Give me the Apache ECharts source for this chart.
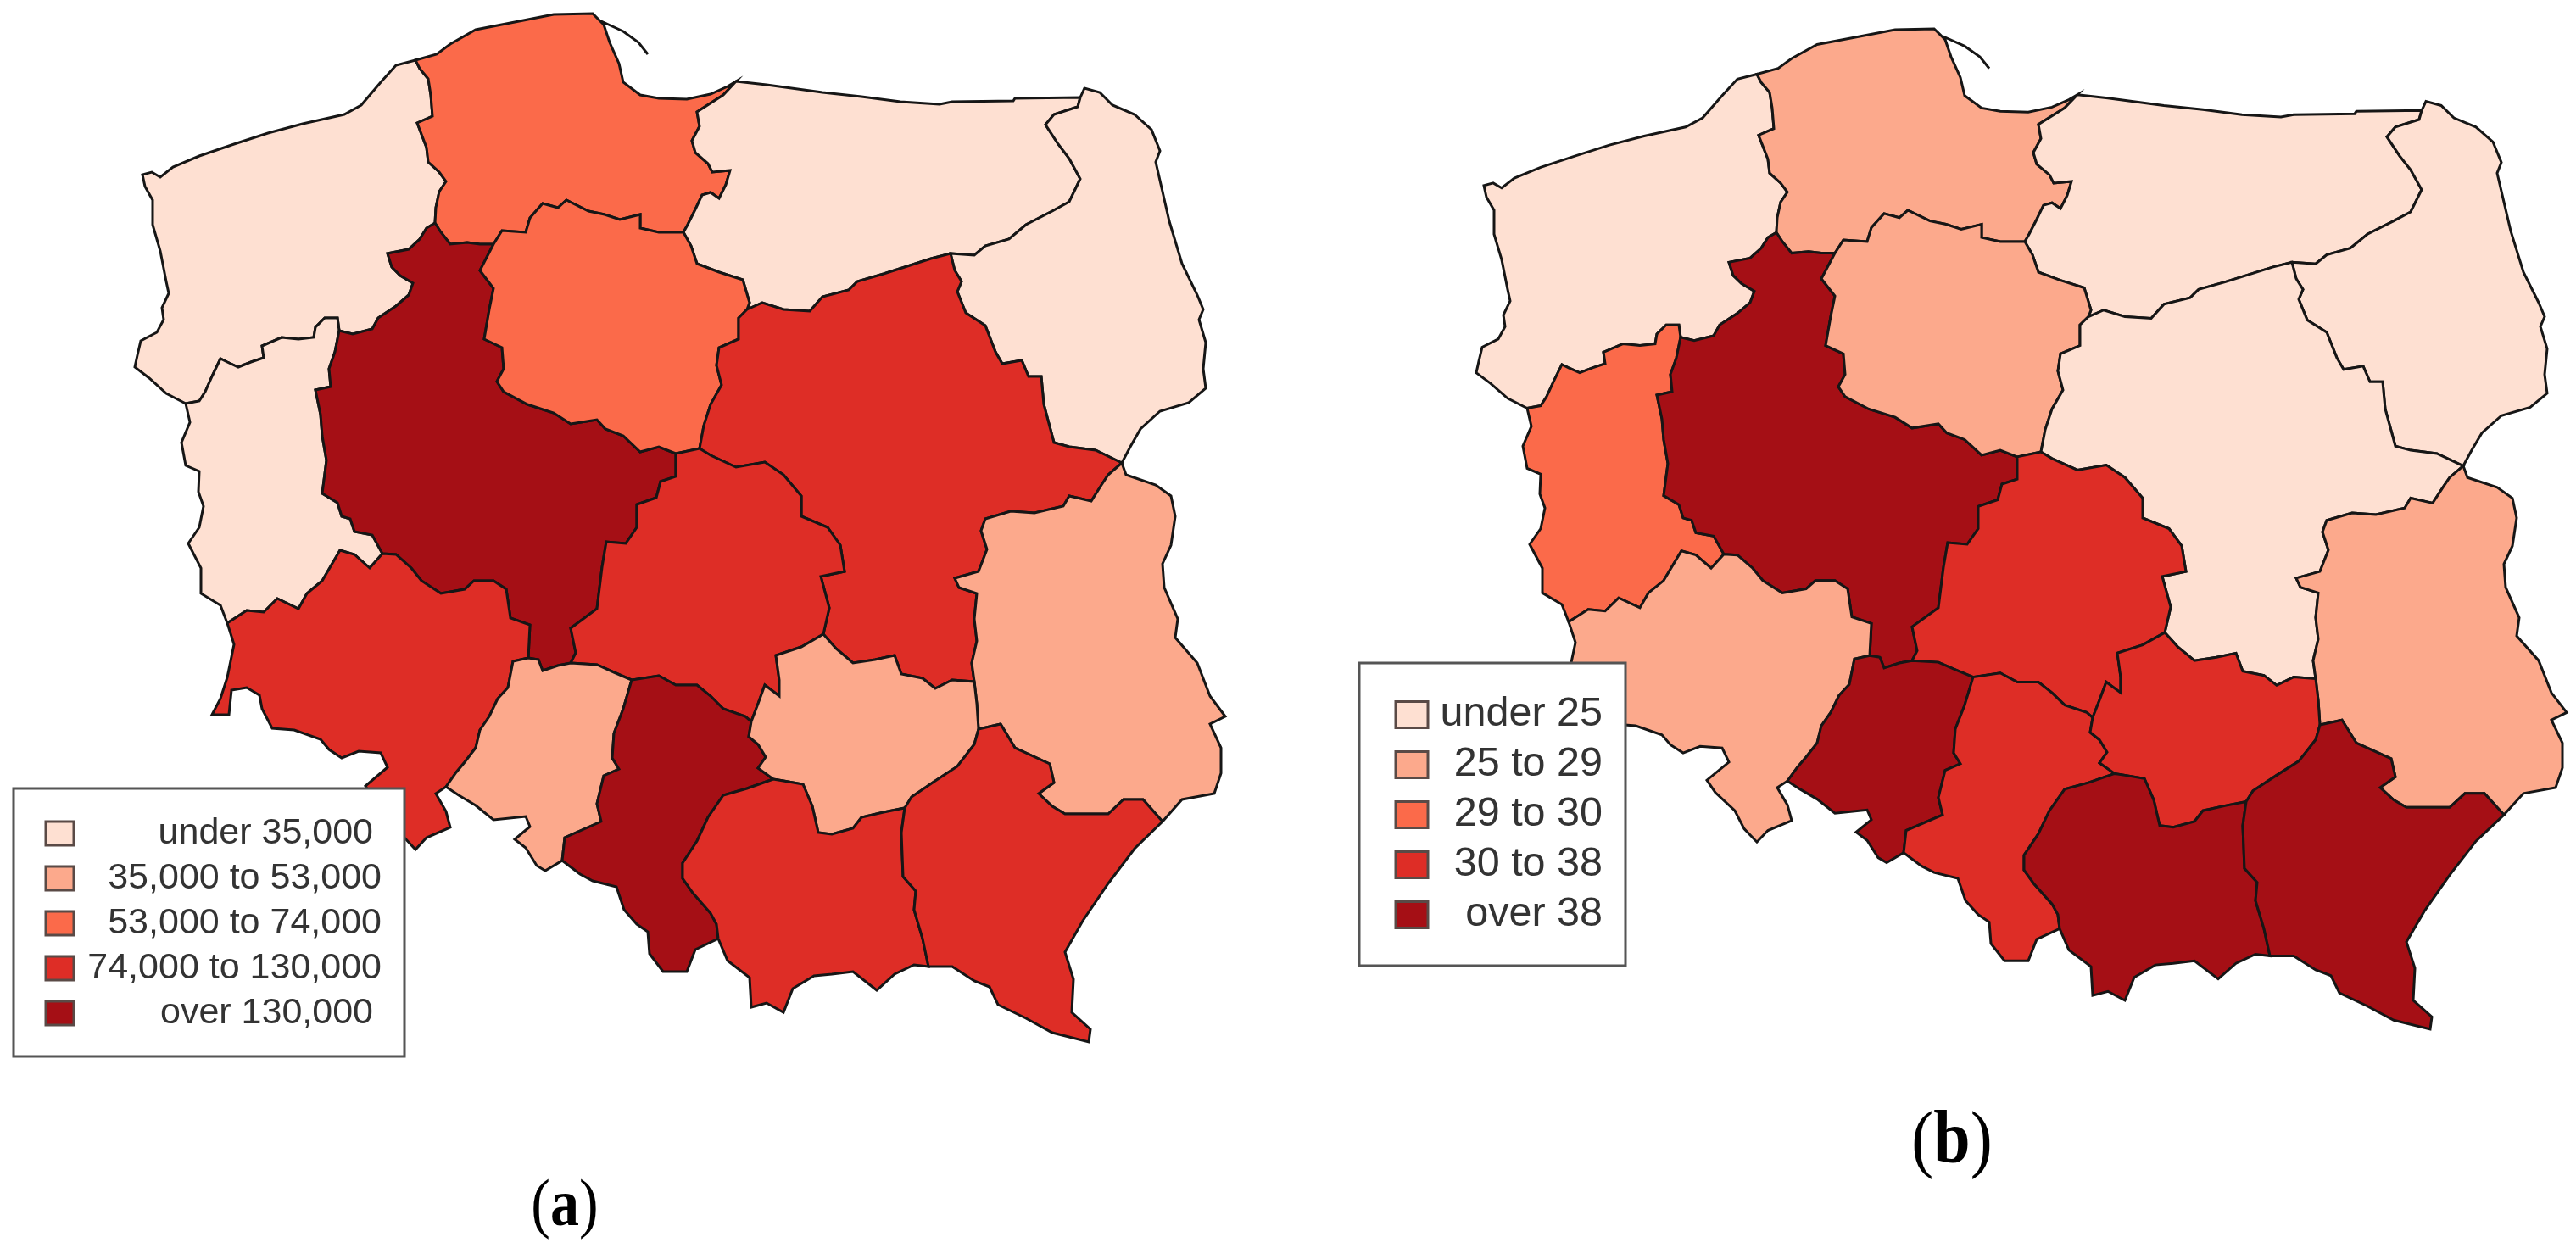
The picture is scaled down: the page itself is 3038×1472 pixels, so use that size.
<!DOCTYPE html>
<html>
<head>
<meta charset="utf-8">
<script src="https://cdn.jsdelivr.net/npm/echarts@6/dist/echarts.min.js"></script>
<style>
html, body { margin: 0; padding: 0; background: #fff; }
#chart { width: 3038px; height: 1472px; }
</style>
</head>
<body>
<div id="chart"></div>
<script>
// voivodeships and the class each one falls in (values estimated from the legend classes)
var regions = ['Zachodniopomorskie', 'Pomorskie', 'Warmińsko-Mazurskie', 'Podlaskie', 'Lubuskie', 'Wielkopolskie',
	'Kujawsko-Pomorskie', 'Mazowieckie', 'Łódzkie', 'Lubelskie', 'Dolnośląskie', 'Opolskie', 'Śląskie',
	'Świętokrzyskie', 'Małopolskie', 'Podkarpackie'];
var valuesA = [30000, 60000, 30000, 25000, 20000, 150000, 65000, 100000, 90000, 45000, 90000, 40000, 140000, 45000, 100000, 85000];
var valuesB = [22, 27, 22, 23, 29.5, 45, 27, 22, 32, 27, 28, 40, 34, 33, 42, 44];

var labelsA = ['under 35,000', '35,000 to 53,000', '53,000 to 74,000', '74,000 to 130,000', 'over 130,000'];
var labelsB = ['under 25', '25 to 29', '29 to 30', '30 to 38', 'over 38'];
var breaksA = [35000, 53000, 74000, 130000];
var breaksB = [25, 29, 30, 38];
var colors = ['#FEE0D2', '#FCA98C', '#FB6A4A', '#DE2D26', '#A50F15'];

// shared borders of the outline
var zachCoast = [[490,71],[467,77],[449,97],[426,124],[406,135],[357,146],[316,157],[276,170],[235,184],[204,197],[189,209],[179,203],[168,206],[171,220],[180,236],[180,265],[189,296],[196,332],[199,346],[191,363],[193,377],[185,392],[166,402],[162,419],[159,433],[176,446],[196,464],[219,476]];
var zachLub = [[219,476],[235,473],[242,462],[250,444],[260,423],[268,427],[281,433],[296,427],[311,422],[309,408],[332,398],[352,400],[370,398],[372,386],[383,375],[398,375],[400,390]];
var zachWlkp = [[400,390],[416,394],[439,388],[446,375],[467,361],[482,348],[487,334],[472,325],[462,315],[457,299],[482,294],[495,282],[503,269],[513,263]];
var zachPom = [[513,263],[514,245],[518,226],[526,214],[518,203],[505,191],[503,174],[492,145],[510,137],[508,112],[505,93],[495,81],[490,71]];
var pomCoast = [[490,71],[515,64],[531,52],[561,35],[602,27],[653,17],[699,16],[712,29],[719,50],[730,75],[735,97],[755,112],[777,116],[810,117],[838,111],[858,102],[868,96]];
var helSpit = [[709,25],[735,37],[753,50],[764,64]];
var pomWM = [[868,96],[853,112],[822,132],[825,149],[816,166],[820,180],[835,193],[840,203],[861,201],[856,218],[848,234],[838,227],[828,230],[820,247],[811,265],[806,274]];
var pomKuj = [[806,274],[777,274],[755,269],[755,253],[731,259],[713,253],[694,249],[668,236],[658,245],[640,240],[625,257],[620,274],[592,272],[582,288]];
var pomWlkp = [[582,288],[566,288],[551,286],[531,288],[520,274],[513,263]];
var kujWlkp = [[582,288],[566,319],[582,340],[577,365],[571,400],[592,410],[594,435],[586,450],[594,462],[622,477],[653,487],[673,500],[704,495],[714,506],[735,514],[755,533],[777,527],[797,535]];
var kujLodz = [[797,535],[825,529]];
var kujMaz = [[825,529],[830,502],[838,477],[851,454],[845,431],[848,410],[871,400],[871,375],[881,365]];
var kujWM = [[806,274],[815,290],[822,311],[848,321],[876,330],[884,357],[881,365]];
var wmMaz = [[881,365],[899,357],[924,365],[955,367],[970,350],[1001,342],[1011,332],[1042,323],[1067,315],[1098,305],[1121,299]];
var wmPodl = [[1121,299],[1149,301],[1162,290],[1190,282],[1210,265],[1241,249],[1261,238],[1274,211],[1261,187],[1248,170],[1233,147],[1243,135],[1271,126],[1274,115]];
var wmNorth = [[868,96],[904,100],[970,109],[1016,114],[1062,120],[1108,123],[1123,120],[1195,119],[1197,116],[1274,115]];
var podlOuter = [[1274,115],[1279,104],[1297,109],[1312,124],[1338,135],[1358,153],[1368,178],[1363,191],[1371,226],[1379,261],[1394,311],[1412,348],[1419,365],[1414,377],[1422,404],[1419,435],[1422,458],[1402,475],[1368,485],[1345,506],[1333,527],[1323,546]];
var podlMaz = [[1121,299],[1126,319],[1134,332],[1129,344],[1139,369],[1162,384],[1174,415],[1182,429],[1205,425],[1213,444],[1228,444],[1231,477],[1243,522],[1261,527],[1292,531],[1323,546]];
var lublOuter = [[1323,546],[1328,560],[1363,572],[1381,585],[1386,609],[1381,643],[1371,665],[1373,693],[1389,730],[1386,752],[1412,782],[1427,821],[1445,845],[1427,854],[1440,882],[1440,912],[1432,936],[1394,943],[1371,969]];
var lublMaz = [[1323,546],[1307,560],[1299,572],[1287,591],[1261,585],[1254,597],[1220,605],[1192,603],[1162,612],[1157,626],[1164,648],[1154,674],[1126,682],[1131,693],[1152,700],[1149,730],[1152,756],[1146,782],[1149,804]];
var lublSwie = [[1149,804],[1152,830],[1154,860]];
var lublPodk = [[1154,860],[1180,854],[1197,882],[1238,901],[1243,923],[1225,936],[1241,951],[1256,960],[1307,960],[1325,943],[1348,943],[1371,969]];
var swiePodk = [[1154,860],[1149,878],[1129,904],[1103,921],[1075,940],[1067,953]];
var swieMalo = [[1067,953],[1042,958],[1016,964],[1006,977],[981,984],[965,982],[958,951],[947,925],[924,921],[912,919]];
var swieSl = [[912,919],[894,906],[903,893],[894,878],[883,869],[886,851]];
var lodzSwie = [[971,748],[945,763],[915,773],[919,802],[919,821],[902,808],[894,830],[886,851]];
var mazSwie = [[971,748],[986,765],[1006,782],[1032,778],[1055,773],[1063,795],[1088,800],[1103,812],[1123,802],[1149,804]];
var lodzMaz = [[825,529],[838,537],[868,551],[902,545],[924,560],[945,585],[945,609],[976,622],[991,643],[996,674],[968,680],[978,717],[971,748]];
var wlkpLodz = [[797,535],[797,562],[779,568],[774,587],[751,595],[751,622],[738,641],[715,639],[710,669],[704,718],[673,741],[679,770],[673,782]];
var wlkpOpol = [[673,782],[658,785],[640,791],[635,778],[623,776]];
var wlkpDol = [[623,776],[625,737],[602,729],[597,695],[582,685],[559,685],[548,695],[520,700],[497,685],[485,670],[467,654],[451,653]];
var lubkWlkp = [[400,390],[395,415],[388,435],[390,456],[372,460],[378,489],[380,514],[385,543],[380,582],[398,593],[403,609],[413,612],[418,627],[439,631],[451,653]];
var lubkDol = [[451,653],[436,670],[418,654],[401,649],[380,685],[362,700],[352,718],[327,706],[311,722],[291,720],[268,735]];
var lubkOuter = [[219,476],[224,498],[214,522],[219,549],[235,556],[234,580],[240,597],[235,622],[222,641],[237,670],[237,700],[260,714],[268,735]];
var dolOuter = [[268,735],[276,760],[268,799],[260,824],[250,843],[270,843],[273,814],[291,811],[306,820],[309,836],[321,859],[347,861],[378,872],[388,884],[403,894],[423,886],[449,888],[457,905],[431,927],[441,942],[464,964],[475,986],[490,1002],[503,988],[531,976],[526,957],[514,936],[526,928]];
var dolOpol = [[526,928],[538,911],[548,899],[561,882],[566,861],[577,845],[587,824],[599,811],[605,780],[623,776]];
var opolOuter = [[526,928],[541,938],[561,950],[582,967],[620,963],[625,975],[607,990],[620,1000],[633,1021],[643,1027],[663,1015]];
var opolSl = [[745,802],[735,836],[724,865],[722,894],[730,907],[712,915],[704,948],[709,969],[666,988],[663,1015]];
var opolLodz = [[673,782],[704,784],[724,793],[745,802]];
var lodzSl = [[745,802],[777,797],[797,808],[822,808],[838,821],[853,836],[879,845],[886,851]];
var slOuter = [[663,1015],[684,1031],[699,1039],[727,1046],[736,1073],[751,1090],[764,1099],[766,1125],[782,1146],[810,1146],[820,1120],[847,1107]];
var slMalo = [[912,919],[881,930],[853,938],[835,964],[822,992],[805,1018],[805,1036],[817,1053],[838,1077],[845,1090],[847,1107]];
var maloOuter = [[847,1107],[858,1133],[884,1153],[886,1188],[904,1183],[924,1194],[935,1166],[960,1151],[981,1149],[1006,1146],[1034,1168],[1055,1149],[1078,1138],[1095,1140]];
var maloPodk = [[1067,953],[1063,982],[1065,1034],[1080,1051],[1078,1073],[1088,1107],[1095,1140]];
var podkOuter = [[1095,1140],[1123,1140],[1149,1157],[1167,1164],[1177,1185],[1210,1201],[1241,1218],[1284,1229],[1286,1214],[1264,1194],[1266,1155],[1256,1123],[1277,1086],[1307,1042],[1338,1001],[1371,969]];

// rev() walks a border backwards so the pieces join up into a ring
function rev(arc) {
	return arc.slice().reverse();
}
function ring() {
	var pts = [];
	for (var i = 0; i < arguments.length; i++) {
		pts = pts.concat(arguments[i]);
	}
	// latitude grows upward in a geojson, the traced y grows downward
	return pts.map(function(p) {
		return [p[0], -p[1]];
	});
}

var rings = {
	'Zachodniopomorskie': [ring(zachCoast, zachLub, zachWlkp, zachPom)],
	'Pomorskie': [ring(pomCoast, pomWM, pomKuj, pomWlkp, zachPom), ring(helSpit, rev(helSpit))],
	'Warmińsko-Mazurskie': [ring(wmNorth, rev(wmPodl), rev(wmMaz), rev(kujWM), rev(pomWM))],
	'Podlaskie': [ring(podlOuter, rev(podlMaz), wmPodl)],
	'Lubuskie': [ring(lubkOuter, rev(lubkDol), rev(lubkWlkp), rev(zachLub))],
	'Wielkopolskie': [ring(lubkWlkp, rev(wlkpDol), rev(wlkpOpol), rev(wlkpLodz), rev(kujWlkp), pomWlkp, rev(zachWlkp))],
	'Kujawsko-Pomorskie': [ring(rev(pomKuj), kujWM, rev(kujMaz), rev(kujLodz), rev(kujWlkp))],
	'Mazowieckie': [ring(wmMaz, podlMaz, lublMaz, rev(mazSwie), rev(lodzMaz), kujMaz)],
	'Łódzkie': [ring(kujLodz, lodzMaz, lodzSwie, rev(lodzSl), rev(opolLodz), rev(wlkpLodz))],
	'Lubelskie': [ring(lublOuter, rev(lublPodk), rev(lublSwie), rev(lublMaz))],
	'Dolnośląskie': [ring(lubkDol, dolOuter, dolOpol, wlkpDol)],
	'Opolskie': [ring(opolOuter, rev(opolSl), rev(opolLodz), wlkpOpol, rev(dolOpol))],
	'Śląskie': [ring(opolSl, slOuter, rev(slMalo), swieSl, rev(lodzSl))],
	'Świętokrzyskie': [ring(mazSwie, lublSwie, swiePodk, swieMalo, swieSl, rev(lodzSwie))],
	'Małopolskie': [ring(slMalo, maloOuter, rev(maloPodk), swieMalo)],
	'Podkarpackie': [ring(maloPodk, podkOuter, rev(lublPodk), swiePodk)]
};

var features = regions.map(function(name) {
	return {
		type : 'Feature',
		properties : { name : name },
		geometry : {
			type : 'MultiPolygon',
			coordinates : rings[name].map(function(r) { return [r]; })
		}
	};
});
var poland = { type : 'FeatureCollection', features : features };
echarts.registerMap('polandA', poland);
echarts.registerMap('polandB', poland);

function pieces(breaks) {
	return colors.map(function(c, i) {
		var p = { color : c };
		if (i > 0) p.gte = breaks[i - 1];
		if (i < breaks.length) p.lt = breaks[i];
		return p;
	});
}
function mapSeries(mapName, values, box, aspect) {
	return {
		type : 'map',
		map : mapName,
		silent : true,
		aspectScale : aspect,
		left : box[0],
		top : box[1],
		width : box[2],
		height : box[3],
		label : { show : false },
		itemStyle : { borderColor : '#161616', borderWidth : 3, areaColor : '#fff' },
		emphasis : { disabled : true },
		select : { disabled : true },
		data : regions.map(function(name, i) {
			return { name : name, value : values[i] };
		})
	};
}
// legend box drawn as one graphic group; boxes sit on top of the maps
function legendBox(labels, box, swatch, text) {
	var els = [{
		type : 'rect', z : 100,
		shape : { x : box[0], y : box[1], width : box[2], height : box[3] },
		style : { fill : '#fff', stroke : '#555', lineWidth : 3 }
	}];
	labels.forEach(function(label, i) {
		var cy = swatch.y + i * swatch.step;
		els.push({
			type : 'rect', z : 101,
			shape : { x : swatch.x, y : cy - swatch.h / 2, width : swatch.w, height : swatch.h },
			style : { fill : colors[i], stroke : '#5a4a46', lineWidth : 3 }
		});
		els.push({
			type : 'text', z : 101,
			x : text.right[i], y : cy,
			style : {
				text : label, fill : '#333', align : 'right', verticalAlign : 'middle',
				font : text.size + 'px "Liberation Sans"'
			}
		});
	});
	return els;
}
// the captions are stretched upright in the source, hence scaleY
function caption(letter, x, y, size, stretch) {
	return {
		type : 'text', z : 101, x : x, y : y, scaleY : stretch,
		style : {
			text : '{p|(}{l|' + letter + '}{p|)}', align : 'center', verticalAlign : 'middle',
			rich : {
				p : { font : size + 'px "Liberation Serif"', fill : '#000' },
				l : { font : 'bold ' + size + 'px "Liberation Serif"', fill : '#000' }
			}
		}
	};
}

var myChart = echarts.init(document.getElementById('chart'));
var option = {
	backgroundColor : '#fff',
	animation : false,
	visualMap : [
		{ show : false, seriesIndex : 0, type : 'piecewise', pieces : pieces(breaksA) },
		{ show : false, seriesIndex : 1, type : 'piecewise', pieces : pieces(breaksB) }
	],
	series : [
		mapSeries('polandA', valuesA, [159, 16, 1286, 1213], 1),
		mapSeries('polandB', valuesB, [1741, 34, 1286, 1180], 1.028)
	],
	graphic : {
		elements : legendBox(labelsA, [16, 930, 461, 316],
			{ x : 54, y : 983, w : 33, h : 28, step : 53 },
			{ right : [440, 450, 450, 450, 440], size : 43 })
			.concat(legendBox(labelsB, [1603, 782, 314, 357],
			{ x : 1646, y : 843, w : 38, h : 31, step : 59 },
			{ right : [1890, 1890, 1890, 1890, 1890], size : 48.5 }))
			.concat([caption('a', 666, 1425, 68, 1.14), caption('b', 2302, 1348, 78, 1.15)])
	}
};
myChart.setOption(option);
</script>
</body>
</html>
